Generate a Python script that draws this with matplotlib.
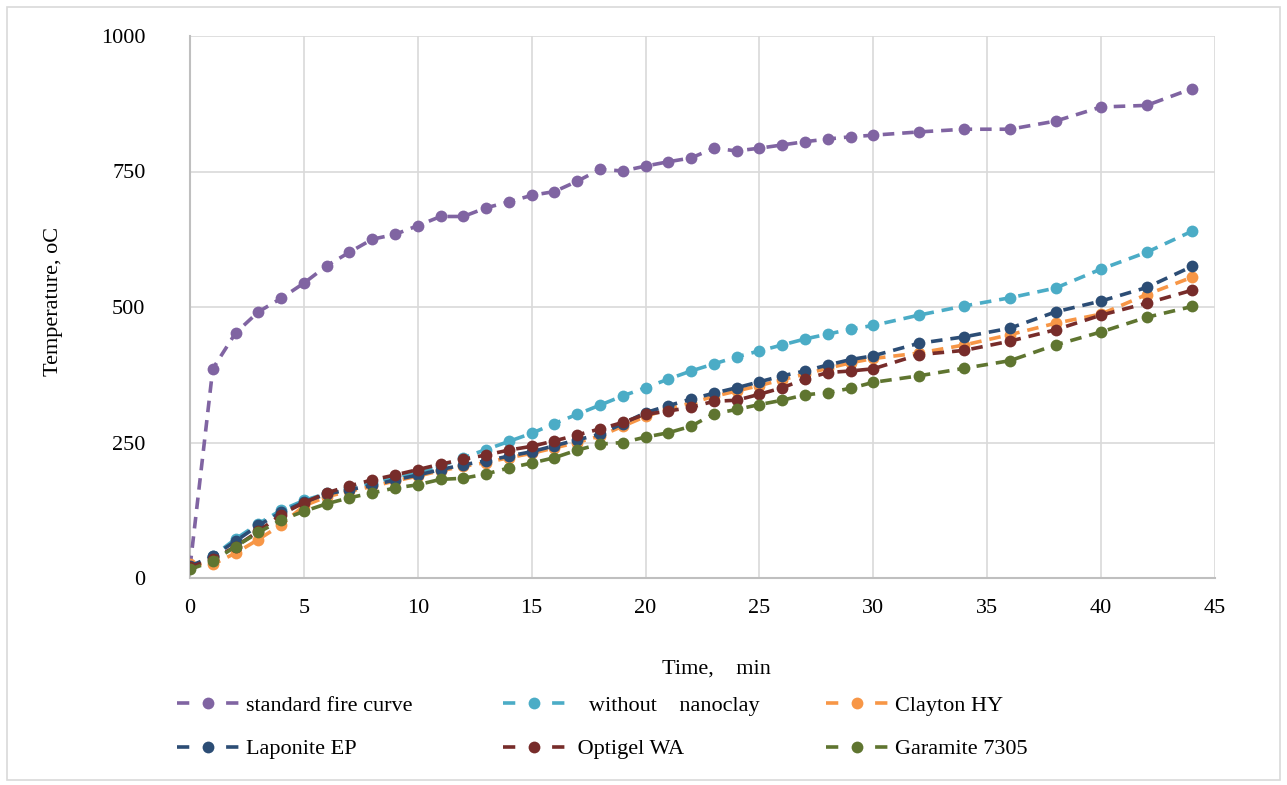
import matplotlib
matplotlib.use("Agg")
import matplotlib.pyplot as plt
from matplotlib.lines import Line2D
from matplotlib.patches import Rectangle

# time, min
time_min = list(range(0, 31)) + [32, 34, 36, 38, 40, 42, 44]

standard_fire = [20, 386, 452, 491, 516, 544, 576, 601, 625, 634, 650, 667, 667, 683, 694,
                 706, 713, 732, 754, 751, 760, 768, 775, 793, 788, 793, 799, 805, 810, 814,
                 817, 823, 828, 828, 843, 869, 872, 903]
without_nanoclay = [20, 40, 72, 100, 125, 143, 156, 166, 176, 186, 196, 206, 222, 237, 252,
                    267, 285, 302, 319, 336, 351, 367, 382, 395, 408, 419, 430, 441, 450, 459,
                    466, 485, 502, 517, 535, 570, 601, 640]
clayton_hy = [25, 25, 46, 71, 98, 133, 150, 160, 169, 179, 188, 198, 206, 213, 222,
              230, 240, 250, 262, 280, 298, 312, 323, 335, 345, 355, 366, 376, 387, 397,
              405, 415, 430, 449, 470, 487, 523, 555]
laponite_ep = [22, 40, 68, 97, 121, 140, 155, 163, 171, 181, 190, 200, 209, 216, 225,
               233, 244, 255, 265, 285, 305, 318, 330, 341, 351, 362, 373, 382, 393, 403,
               410, 433, 445, 461, 491, 511, 536, 575]
optigel_wa = [20, 35, 58, 86, 117, 139, 157, 170, 181, 190, 200, 210, 219, 227, 236,
              243, 253, 264, 275, 287, 302, 308, 315, 326, 328, 339, 351, 367, 379, 382,
              386, 412, 420, 437, 458, 485, 507, 531]
garamite_7305 = [16, 31, 58, 84, 107, 123, 137, 148, 157, 166, 172, 182, 184, 192, 203,
                 212, 222, 236, 247, 250, 260, 268, 280, 303, 311, 320, 328, 338, 342, 350,
                 361, 373, 387, 401, 430, 454, 481, 501]

series_names = ["standard fire curve", "   without    nanoclay", "Clayton HY",
                "Laponite EP", " Optigel WA", "Garamite 7305"]
series_colors = ["#8064A2", "#4BACC6", "#F79646", "#2C4D75", "#772C2A", "#5F7530"]
series_values = [standard_fire, without_nanoclay, clayton_hy, laponite_ep, optigel_wa, garamite_7305]

x_ticks = [0, 5, 10, 15, 20, 25, 30, 35, 40, 45]
y_ticks = [0, 250, 500, 750, 1000]

plt.rcParams['font.family'] = ['Liberation Serif', 'DejaVu Serif']
FS = 16

fig = plt.figure(figsize=(12.87, 7.85), dpi=100)
ax = fig.add_axes([190 / 1287, 1 - 578 / 785, 1025 / 1287, 542 / 785])

for vals, col in zip(series_values, series_colors):
    ax.plot(time_min, vals, color=col, lw=2.6, linestyle=(0, (3.2, 2.2)),
            marker='o', markersize=8.5, markeredgewidth=0, zorder=3)

ax.set_xlim(0, 45)
ax.set_ylim(0, 1000)
ax.set_xticks(x_ticks)
ax.set_yticks(y_ticks)
ax.tick_params(axis='both', length=0, labelsize=FS)
ax.tick_params(axis='y', pad=32)
ax.tick_params(axis='x', pad=15)
ax.grid(True, color='#D9D9D9', lw=1.2, zorder=0)
ax.set_axisbelow(True)
for s in ['top', 'right']:
    ax.spines[s].set_visible(False)
for s in ['left', 'bottom']:
    ax.spines[s].set_color('#BFBFBF')
    ax.spines[s].set_linewidth(1.5)

ax.set_ylabel("Temperature, oC", fontsize=FS)
ax.yaxis.set_label_coords(-0.124, 0.51)
ax.set_xlabel("Time,    min", fontsize=FS)
ax.xaxis.set_label_coords(0.5135, -0.15)

# legend, one block per column
col_x = [177, 503, 826]
for c in range(3):
    hs = []
    for r in range(2):
        i = c + 3 * r
        hs.append(Line2D([], [], color=series_colors[i], lw=2.6, linestyle=(0, (3.4, 10.2)),
                         marker='o', markersize=8.5, markeredgewidth=0))
    labels = [series_names[c], series_names[c + 3]]
    fig.legend(hs, labels, loc='upper left', bbox_to_anchor=(col_x[c] / 1287, 1 - 695 / 785),
               frameon=False, fontsize=FS, handlelength=2.8, handletextpad=0.3,
               labelspacing=1.05, borderpad=0, borderaxespad=0)

fig.patches.append(Rectangle((7 / 1287, 5 / 785), 1273 / 1287, 773 / 785,
                             transform=fig.transFigure, fill=False,
                             edgecolor='#D9D9D9', lw=1.2))

fig.savefig("out.png", dpi=100)
